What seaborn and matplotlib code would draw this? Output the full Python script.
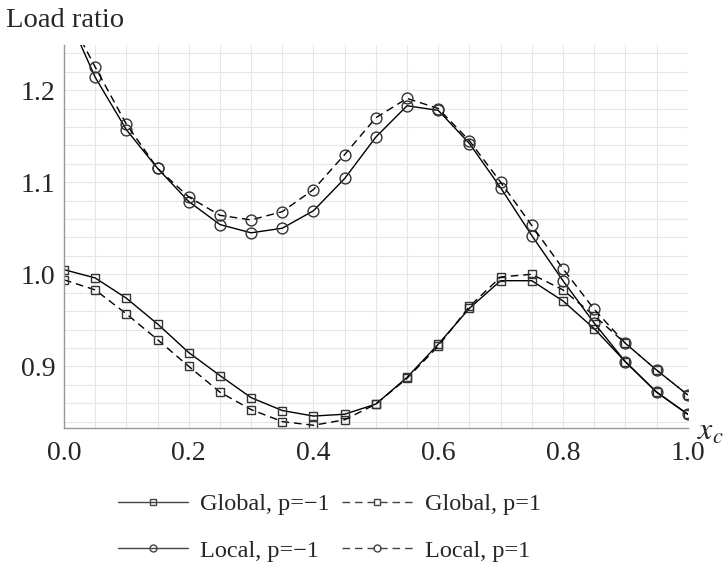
import numpy as np
import pandas as pd
import matplotlib
matplotlib.use("Agg")
import matplotlib.pyplot as plt
import seaborn as sns
from matplotlib.ticker import MultipleLocator
from matplotlib.lines import Line2D

# data
x_c = [0.0, 0.05, 0.1, 0.15, 0.2, 0.25, 0.3, 0.35, 0.4, 0.45, 0.5,
       0.55, 0.6, 0.65, 0.7, 0.75, 0.8, 0.85, 0.9, 0.95, 1.0]

global_m1 = [1.005, 0.996, 0.974, 0.946, 0.915, 0.890, 0.866, 0.852, 0.846, 0.848, 0.859,
             0.888, 0.924, 0.963, 0.993, 0.993, 0.971, 0.941, 0.905, 0.872, 0.848]
global_p1 = [0.994, 0.983, 0.957, 0.929, 0.900, 0.872, 0.853, 0.840, 0.836, 0.842, 0.859,
             0.887, 0.922, 0.965, 0.997, 1.000, 0.983, 0.955, 0.925, 0.896, 0.869]
local_m1 = [1.290, 1.214, 1.157, 1.115, 1.079, 1.054, 1.045, 1.050, 1.069, 1.104, 1.149,
            1.183, 1.178, 1.142, 1.094, 1.042, 0.993, 0.947, 0.905, 0.872, 0.848]
local_p1 = [1.290, 1.225, 1.163, 1.115, 1.084, 1.064, 1.059, 1.068, 1.092, 1.130, 1.170,
            1.191, 1.180, 1.145, 1.100, 1.053, 1.006, 0.962, 0.925, 0.896, 0.869]

dashed = (0, (5.5, 3.5))
series = [
    ("Global, p=\u22121", global_m1, "s", "-", 6),
    ("Local, p=\u22121", local_m1, "o", "-", 7.8),
    ("Global, p=1", global_p1, "s", dashed, 6),
    ("Local, p=1", local_p1, "o", dashed, 7.8),
]

sns.set_style("white")
plt.rcParams["font.family"] = ["Liberation Serif", "DejaVu Serif"]
plt.rcParams["mathtext.fontset"] = "stix"

fig = plt.figure(figsize=(7.27, 5.73), dpi=100)
ax = fig.add_axes([0.088, 0.253, 0.858, 0.6685])

for name, vals, mk, ls, ms in series:
    sns.lineplot(x=x_c, y=vals, ax=ax, color="black", lw=1.0, linestyle=ls,
                 marker=mk, markersize=ms, markerfacecolor="none",
                 markeredgecolor="#333333", markeredgewidth=1.0)

ax.set_xlim(0, 1.0)
ax.set_ylim(0.833, 1.249)
ax.xaxis.set_major_locator(MultipleLocator(0.2))
ax.xaxis.set_minor_locator(MultipleLocator(0.05))
ax.yaxis.set_major_locator(MultipleLocator(0.1))
ax.yaxis.set_minor_locator(MultipleLocator(0.02))
ax.xaxis.set_major_formatter(lambda v, p: f"{v:.1f}")
ax.yaxis.set_major_formatter(lambda v, p: f"{v:.1f}")
ax.grid(True, which="both", color="#e6e6e6", lw=0.8)
ax.set_axisbelow(True)
ax.tick_params(which="both", direction="in", color="#999999", length=5, width=0.8,
               labelsize=20)
ax.tick_params(axis="x", pad=9)
ax.tick_params(axis="y", pad=6)

for s in ["top", "right"]:
    ax.spines[s].set_visible(False)
for s in ["left", "bottom"]:
    ax.spines[s].set_color("#999999")
    ax.spines[s].set_linewidth(1.0)

ax.set_xlabel("")
ax.set_ylabel("")
ax.text(1.015, -0.01, "$x_c$", transform=ax.transAxes, fontsize=23,
        ha="left", va="center")
fig.text(0.008, 0.986, "Load ratio", fontsize=20.5, ha="left", va="top")

# legend proxies (small markers, dark gray)
handles = [Line2D([], [], color="#444444", lw=1.0, linestyle=ls, marker=mk,
                  markersize=5, markerfacecolor="none", markeredgecolor="#444444")
           for _, _, mk, ls, _ in series]
labels = [s[0] for s in series]
fig.legend(handles, labels, ncol=2, loc="upper center", bbox_to_anchor=(0.453, 0.177),
           frameon=False, fontsize=17.5, handlelength=2.9, columnspacing=0.5,
           labelspacing=1.0, handletextpad=0.5)

fig.savefig("out.png", dpi=100)
